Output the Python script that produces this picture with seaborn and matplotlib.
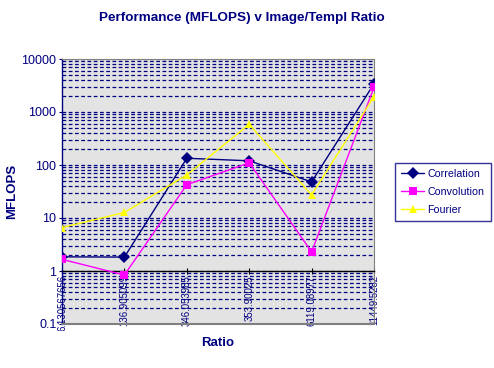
import matplotlib
matplotlib.use("Agg")
import matplotlib.pyplot as plt
import seaborn as sns
import pandas as pd
import numpy as np
from matplotlib.ticker import LogLocator, FixedLocator, FixedFormatter, NullFormatter
from matplotlib.transforms import Bbox, TransformedBbox

ratios = ["6.130567656", "136.905099", "346.053985", "353.90025", "6119.08977", "11449.5282"]
correlation = [1.85, 1.83, 134, 120, 48, 3400]
convolution = [1.66, 0.84, 42.5, 110, 2.3, 2900]
fourier = [6.6, 12.7, 65, 584, 27.3, 1950]
series_names = ["Correlation", "Convolution", "Fourier"]

rows = []
for name, vals in zip(series_names, [correlation, convolution, fourier]):
    for i, v in enumerate(vals):
        rows.append({"idx": i, "Ratio": ratios[i], "MFLOPS": v, "Series": name})
df = pd.DataFrame(rows)

sns.set_style("white")
plt.rcParams["font.family"] = ["Liberation Sans", "DejaVu Sans"]

navy = "#000080"
fig = plt.figure(figsize=(4.94, 3.68), dpi=100)
ax = fig.add_axes([62/494, 1-324/368, (374-62)/494, (324-59)/368])
ax.set_facecolor("#e3e3e3")

palette = {"Correlation": navy, "Convolution": "#ff00ff", "Fourier": "#ffff00"}
markers = {"Correlation": "D", "Convolution": "s", "Fourier": "^"}
sns.lineplot(data=df, x="idx", y="MFLOPS", hue="Series", style="Series",
             palette=palette, markers=markers, dashes=False, ax=ax,
             linewidth=1.0, markersize=6, markeredgewidth=0, zorder=5)

ax.set_yscale("log")
ax.set_ylim(0.1, 10000)
ax.set_xlim(0, 5)

# position the x axis at y = 1 first (this resets tick objects)
ax.spines["bottom"].set_position(("data", 1))

ax.yaxis.set_major_locator(FixedLocator([0.1, 1, 10, 100, 1000, 10000]))
ax.yaxis.set_major_formatter(FixedFormatter(["0.1", "1", "10", "100", "1000", "10000"]))
ax.yaxis.set_minor_locator(LogLocator(base=10, subs=np.arange(2, 10)))
ax.yaxis.set_minor_formatter(NullFormatter())
ax.grid(True, axis="y", which="both", color=navy, linestyle=(0, (3, 2)), linewidth=0.9)
ax.grid(False, axis="x")
ax.set_axisbelow(True)

ax.set_xticks(range(len(ratios)))
ax.set_xticklabels(ratios)
ax.tick_params(axis="x", direction="inout", length=5, color="black", pad=0.5, bottom=True,
               labelrotation=90, labelcolor=navy, labelsize=6.9)
ax.tick_params(axis="y", which="major", direction="out", length=2.5, color=navy, pad=1.5,
               labelcolor=navy, labelsize=9, left=True)
ax.tick_params(axis="y", which="minor", length=0)

ax.spines["bottom"].set_color("black")
ax.spines["bottom"].set_linewidth(1.0)
ax.spines["bottom"].set_zorder(4)
ax.spines["left"].set_color(navy)
ax.spines["left"].set_linewidth(1.0)
ax.spines["top"].set_color("#808080")
ax.spines["right"].set_color("#808080")
for s in ["top", "right", "left", "bottom"]:
    ax.spines[s].set_visible(True)

ax.axhline(0.1, color="#808080", linewidth=1.5, clip_on=False, zorder=3)

fig.canvas.draw()
clip = TransformedBbox(Bbox([[0, 1 - 331/368], [1, 1 - 59/368]]), fig.transFigure)
for lbl in ax.get_xticklabels():
    lbl.set_clip_on(True)
    lbl.set_clip_box(clip)

ax.set_xlabel("")
ax.set_ylabel("")
fig.text(0.5 * (62 + 374) / 494, 1 - 343/368, "Ratio", ha="center", va="center",
         color=navy, fontsize=9.5, fontweight="bold")
fig.text(12/494, 1 - 191/368, "MFLOPS", ha="center", va="center", rotation=90,
         color=navy, fontsize=9.5, fontweight="bold")
fig.text(242/494, 1 - 18/368, "Performance (MFLOPS) v Image/Templ Ratio", ha="center",
         va="center", color=navy, fontsize=9.7, fontweight="bold")

leg = ax.legend(loc="upper left", bbox_to_anchor=(395/494, 1 - 163/368),
                bbox_transform=fig.transFigure, frameon=True, fancybox=False,
                fontsize=7.7, handlelength=2.2, borderpad=0.55, labelspacing=0.75,
                handletextpad=0.3, borderaxespad=0)
leg.get_frame().set_edgecolor(navy)
leg.get_frame().set_linewidth(1.0)
for t in leg.get_texts():
    t.set_color(navy)

fig.savefig("out.png", dpi=100, facecolor="white")
